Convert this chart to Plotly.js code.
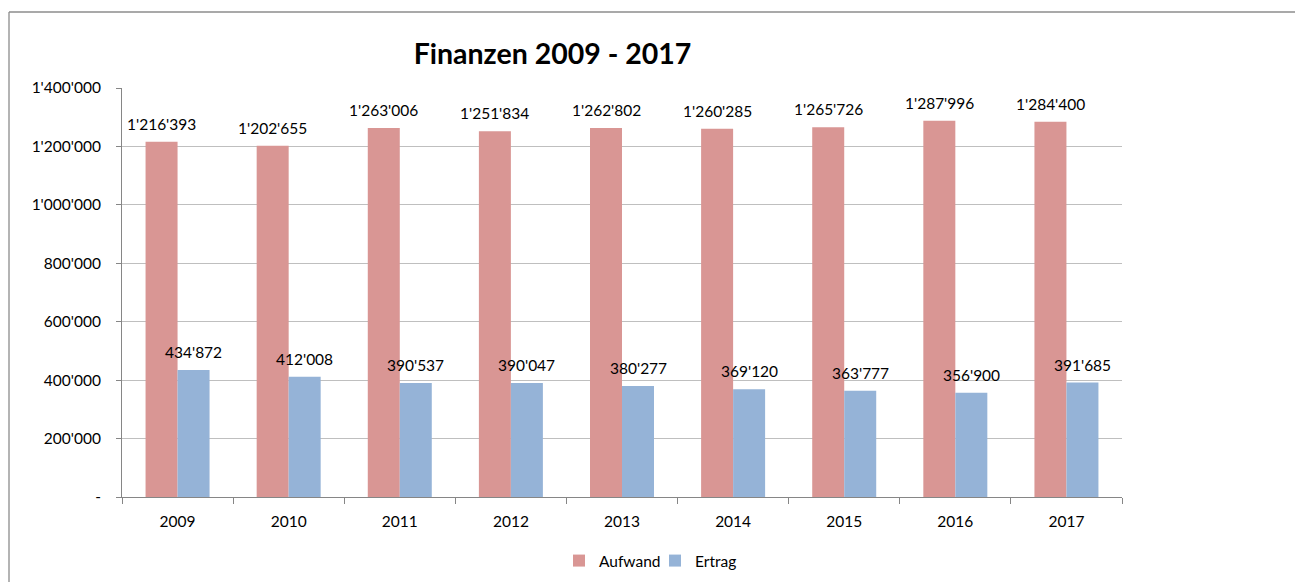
<!DOCTYPE html>
<html>
<head>
<meta charset="utf-8">
<script src="https://cdn.plot.ly/plotly-3.0.1.min.js"></script>
<style>
  html, body { margin: 0; padding: 0; background: #ffffff; }
  #chart { width: 1295px; height: 582px; }
</style>
</head>
<body>
<div id="chart"></div>
<script>
// ---- data ----
const years = ['2009', '2010', '2011', '2012', '2013', '2014', '2015', '2016', '2017'];
const aufwand = [1216393, 1202655, 1263006, 1251834, 1262802, 1260285, 1265726, 1287996, 1284400];
const ertrag = [434872, 412008, 390537, 390047, 380277, 369120, 363777, 356900, 391685];
const seriesNames = ['Aufwand', 'Ertrag'];
const tickVals = [0, 200000, 400000, 600000, 800000, 1000000, 1200000, 1400000];
const tickText = ['-', "200'000", "400'000", "600'000", "800'000", "1'000'000", "1'200'000", "1'400'000"];
const titleText = 'Finanzen 2009 - 2017';

// ---- styling ----
const FONT = 'Lato, "Open Sans", "Liberation Sans", sans-serif';
const colors = ['#D99694', '#95B3D7'];

function fmt(v) {
  return String(v).replace(/\B(?=(\d{3})+(?!\d))/g, "'");
}

const traces = [
  { type: 'bar', name: seriesNames[0], x: years, y: aufwand, marker: { color: colors[0] }, hoverinfo: 'x+y' },
  { type: 'bar', name: seriesNames[1], x: years, y: ertrag, marker: { color: colors[1] }, hoverinfo: 'x+y' }
];

const annotations = [];
[aufwand, ertrag].forEach(function (vals, si) {
  vals.forEach(function (v, i) {
    annotations.push({
      x: i, y: v, xref: 'x', yref: 'y',
      text: fmt(v), showarrow: false,
      xshift: si === 0 ? -16 : 16, yshift: 18,
      xanchor: 'center', yanchor: 'middle',
      font: { family: FONT, size: 15.5, color: '#000000' }
    });
  });
});

const layout = {
  width: 1295, height: 582,
  margin: { l: 122, r: 173, t: 88, b: 85, pad: 0, autoexpand: false },
  paper_bgcolor: '#ffffff', plot_bgcolor: '#ffffff',
  font: { family: FONT, size: 15.5, color: '#000000' },
  title: {
    text: '<b>' + titleText + '</b>',
    font: { family: FONT, size: 28.5, color: '#000000' },
    x: 552.5 / 1295, xanchor: 'center', xref: 'container',
    y: 1 - 53.7 / 582, yanchor: 'middle', yref: 'container'
  },
  barmode: 'group', bargap: 0.424, bargroupgap: 0,
  xaxis: {
    type: 'category',
    range: [-0.5, years.length - 0.5],
    showgrid: false, zeroline: false,
    showline: true, linecolor: '#868686', linewidth: 1,
    ticks: 'outside', tickson: 'boundaries', ticklen: 6, tickcolor: '#868686',
    tickfont: { family: FONT, size: 15.5, color: '#000000' },
    tickangle: 0,
    ticklabelstandoff: 10
  },
  yaxis: {
    range: [0, 1400000],
    tickvals: tickVals, ticktext: tickText,
    showgrid: true, gridcolor: '#BFBFBF', gridwidth: 1,
    zeroline: false,
    showline: true, linecolor: '#868686', linewidth: 1,
    ticks: 'outside', ticklen: 5, tickcolor: '#868686',
    tickfont: { family: FONT, size: 15.5, color: '#000000' },
    ticklabelstandoff: 12
  },
  showlegend: true,
  legend: {
    orientation: 'h',
    x: 0.437, xanchor: 'left',
    y: (497 - 561) / 409, yanchor: 'middle',
    entrywidth: 51,
    font: { family: FONT, size: 15.5, color: '#000000' },
    bgcolor: 'rgba(0,0,0,0)', borderwidth: 0
  },
  annotations: annotations,
  shapes: [
    { type: 'line', xref: 'paper', yref: 'paper', x0: -113 / 1000, x1: 1173 / 1000, y0: (497 - 12) / 409, y1: (497 - 12) / 409, line: { color: '#8C8C8C', width: 1.3 } },
    { type: 'line', xref: 'paper', yref: 'paper', x0: -113 / 1000, x1: -113 / 1000, y0: (497 - 12) / 409, y1: (497 - 590) / 409, line: { color: '#8C8C8C', width: 1.3 } }
  ]
};

Plotly.newPlot('chart', traces, layout, { displayModeBar: false, responsive: false });
</script>
</body>
</html>
